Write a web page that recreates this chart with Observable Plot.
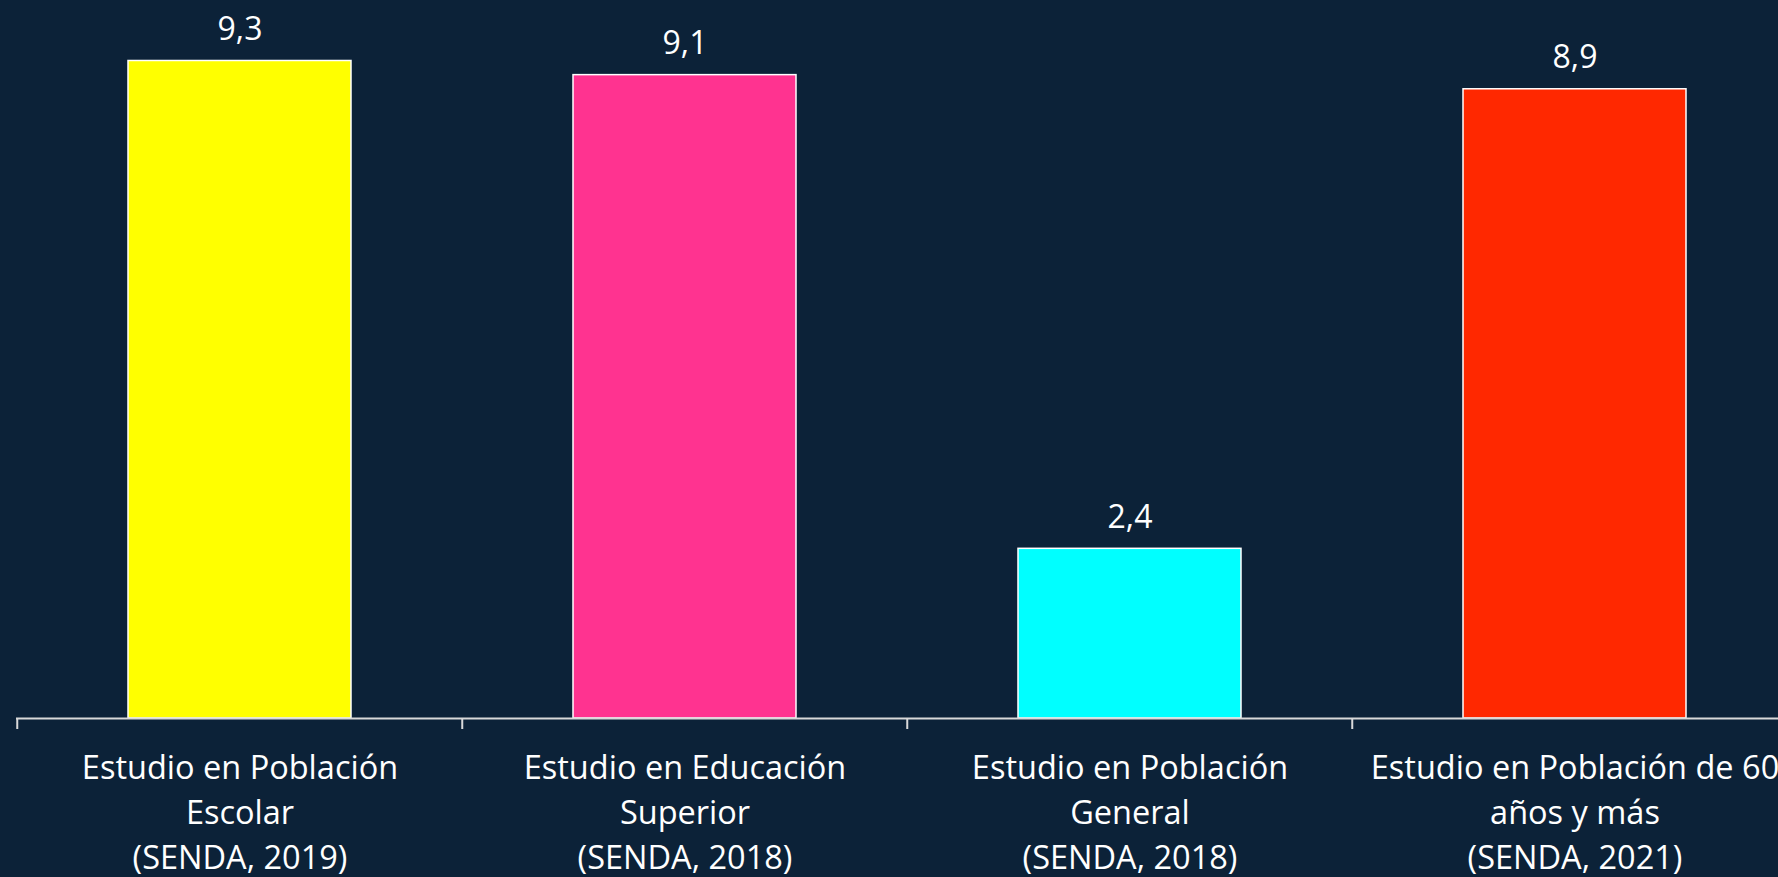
<!DOCTYPE html>
<html>
<head>
<meta charset="utf-8">
<script src="https://cdn.jsdelivr.net/npm/d3@7"></script>
<script src="https://cdn.jsdelivr.net/npm/@observablehq/plot@0.6"></script>
<style>
  html, body { margin: 0; padding: 0; background: #0c2238; overflow: hidden; }
</style>
</head>
<body>
<div id="chart"></div>
<script>
const categories = [
  "Estudio en Población\nEscolar\n(SENDA, 2019)",
  "Estudio en Educación\nSuperior\n(SENDA, 2018)",
  "Estudio en Población\nGeneral\n(SENDA, 2018)",
  "Estudio en Población de 60\naños y más\n(SENDA, 2021)"
];
const values = [9.3, 9.1, 2.4, 8.9];
const valueLabels = ["9,3", "9,1", "2,4", "8,9"];
const barColors = ["#ffff00", "#ff3390", "#00ffff", "#ff2800"];

const data = categories.map((c, i) => ({category: c, value: values[i], label: valueLabels[i]}));

const W = 1778, H = 877;
const xRange = [16, 1798];
const step = (xRange[1] - xRange[0]) / categories.length;
const font = "'Open Sans', sans-serif";

const chart = Plot.plot({
  width: W,
  height: H,
  marginTop: 11,
  marginBottom: 159,
  marginLeft: 16,
  marginRight: 0,
  style: {background: "#0c2238", color: "white", fontFamily: font, fontSize: "32px", overflow: "hidden"},
  x: {domain: categories, range: xRange, paddingInner: 0.5, paddingOuter: 0.25, axis: null, label: null},
  y: {domain: [0, 10], axis: null},
  color: {domain: categories, range: barColors},
  marks: [
    Plot.barY(data, {x: "category", y: "value", fill: "category", stroke: "white", strokeWidth: 1.5}),
    Plot.ruleY([0], {stroke: "#d9d9d9", strokeWidth: 2}),
    Plot.axisX({tickSize: 11, tickFormat: () => "", label: null, dx: -step / 2, stroke: "#d9d9d9", strokeWidth: 2}),
    Plot.axisX({tickSize: 0, tickPadding: 29, label: null, lineHeight: 1.38, fontSize: 32.5, fill: "white", fontFamily: font}),
    Plot.text(data, {x: "category", y: "value", text: "label", dy: -21, lineAnchor: "bottom", fill: "white", fontSize: 32, fontFamily: font})
  ]
});
document.getElementById("chart").appendChild(chart);
</script>
</body>
</html>
